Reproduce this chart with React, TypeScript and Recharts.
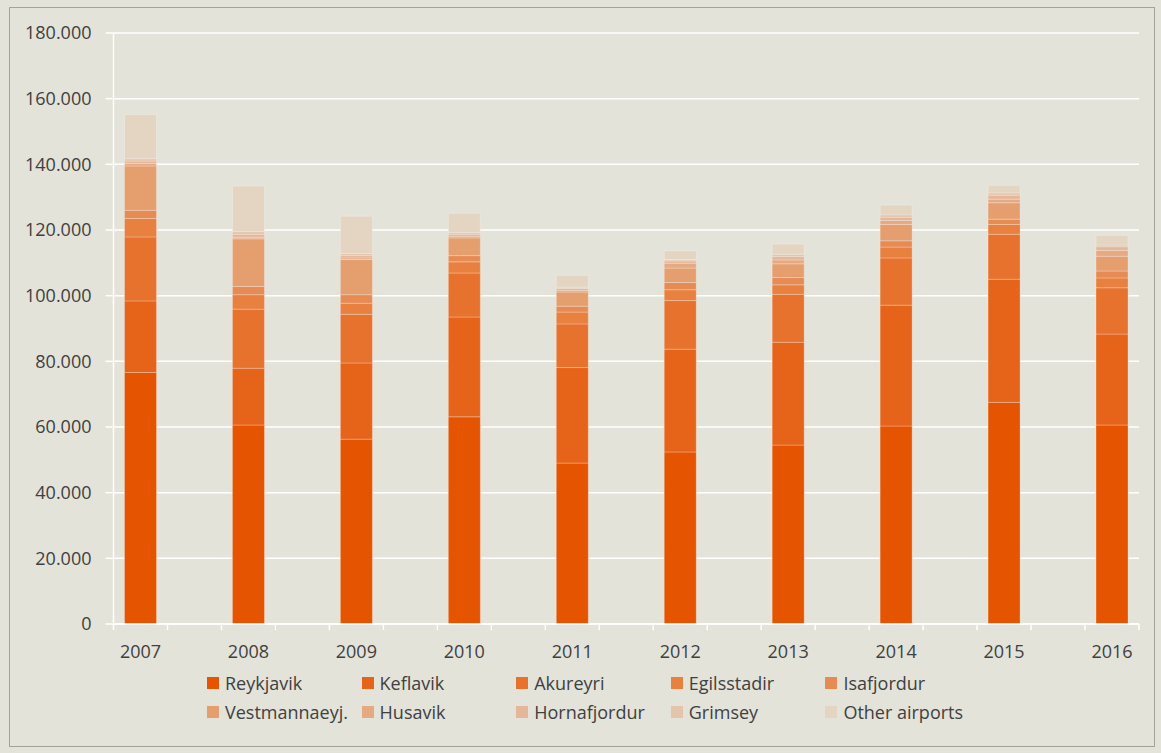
import React from 'react';
import { BarChart, Bar, XAxis, YAxis, CartesianGrid, Legend } from 'recharts';

const years = ['2007', '2008', '2009', '2010', '2011', '2012', '2013', '2014', '2015', '2016'];

const reykjavik = [76600, 60600, 56300, 63100, 49000, 52400, 54500, 60300, 67500, 60600];
const keflavik = [21800, 17300, 23200, 30400, 29100, 31300, 31300, 36800, 37500, 27700];
const akureyri = [19500, 18000, 14800, 13400, 13300, 14800, 14600, 14400, 13700, 14100];
const egilsstadir = [5600, 4400, 3400, 3400, 3600, 3300, 2900, 3300, 3000, 3000];
const isafjordur = [2500, 2500, 2600, 1900, 1800, 2200, 2200, 1900, 1600, 2100];
const vestmannaeyj = [13500, 14500, 10700, 5400, 4300, 4400, 4200, 5000, 5000, 4500];
const husavik = [800, 500, 500, 500, 500, 1500, 1200, 1200, 1100, 1800];
const hornafjordur = [700, 900, 700, 600, 600, 700, 1000, 1000, 1200, 1100];
const grimsey = [700, 800, 600, 500, 400, 400, 700, 700, 700, 500];
const otherAirports = [13500, 13900, 11400, 5900, 3600, 2700, 3100, 3000, 2300, 3000];

const seriesNames = ['Reykjavik', 'Keflavik', 'Akureyri', 'Egilsstadir', 'Isafjordur', 'Vestmannaeyj.', 'Husavik', 'Hornafjordur', 'Grimsey', 'Other airports'];
const seriesValues = [reykjavik, keflavik, akureyri, egilsstadir, isafjordur, vestmannaeyj, husavik, hornafjordur, grimsey, otherAirports];
const seriesColors = ['#E55400', '#E6631A', '#E7722D', '#E8803F', '#E78B55', '#E59E6E', '#E5A983', '#E5B697', '#E4C4AB', '#E4D5C3'];

const yTicks = [0, 20000, 40000, 60000, 80000, 100000, 120000, 140000, 160000, 180000];

// one slot per year, with an empty slot between consecutive years
const rows: any[] = [];
years.forEach((yr, i) => {
  const row: any = { label: yr };
  seriesValues.forEach((vals, k) => {
    row['s' + k] = vals[i];
  });
  rows.push(row);
  if (i < years.length - 1) rows.push({ label: '' });
});

const W = 1144;
const H = 738;
const FONT = '"Open Sans", sans-serif';
const TEXT = '#404040';

const fmtY = (v: number) => (v === 0 ? '0' : `${Math.round(v / 1000)}.000`);

const XTick = (props: any) => {
  const { x, y, payload, index, width, visibleTicksCount } = props;
  const half = width && visibleTicksCount ? width / visibleTicksCount / 2 : 0;
  return (
    <g>
      <line x1={x - half} x2={x - half} y1={y} y2={y + 6} stroke="#FFFFFF" strokeWidth={1.5} />
      {index === visibleTicksCount - 1 && (
        <line x1={x + half} x2={x + half} y1={y} y2={y + 6} stroke="#FFFFFF" strokeWidth={1.5} />
      )}
      {payload.value !== '' && (
        <text x={x} y={y + 28} dy="0.35em" textAnchor="middle" fill={TEXT} fontSize={18} fontFamily={FONT}>
          {payload.value}
        </text>
      )}
    </g>
  );
};

const LegendContent = () => (
  <div
    style={{
      width: W,
      height: 76,
      boxSizing: 'border-box',
      paddingLeft: 197,
      display: 'grid',
      gridTemplateColumns: 'repeat(5, 154.6px)',
      gridAutoRows: '26px',
      rowGap: 3,
      fontFamily: FONT,
      fontSize: 18,
      color: TEXT,
    }}
  >
    {seriesNames.map((n, k) => (
      <div key={n} style={{ display: 'flex', alignItems: 'center', whiteSpace: 'nowrap' }}>
        <span style={{ display: 'inline-block', width: 12, height: 12, background: seriesColors[k], marginRight: 6 }} />
        <span>{n}</span>
      </div>
    ))}
  </div>
);

export default function App() {
  return (
    <div style={{ position: 'fixed', inset: 0, background: '#E3E3DA' }}>
      <div
        style={{
          position: 'absolute',
          left: 9,
          top: 7,
          width: W,
          height: H,
          border: '1px solid #A3A39D',
        }}
      >
        <BarChart
          width={W}
          height={H}
          data={rows}
          margin={{ top: 25, right: 15, bottom: 0, left: 0 }}
          barSize={32}
        >
          <CartesianGrid vertical={false} stroke="#FFFFFF" strokeWidth={1.5} />
          <XAxis
            dataKey="label"
            interval={0}
            height={46}
            tickSize={0}
            tickMargin={0}
            tickLine={false}
            axisLine={{ stroke: '#FFFFFF', strokeWidth: 1.5 }}
            tick={<XTick />}
          />
          <YAxis
            width={103.5}
            domain={[0, 180000]}
            ticks={yTicks}
            tickFormatter={fmtY}
            tickSize={8}
            tickMargin={14}
            axisLine={{ stroke: '#FFFFFF', strokeWidth: 1.5 }}
            tickLine={{ stroke: '#FFFFFF', strokeWidth: 1.5 }}
            tick={{ fill: TEXT, fontSize: 18, fontFamily: FONT }}
          />
          <Legend verticalAlign="bottom" align="left" content={<LegendContent />} wrapperStyle={{ left: 0 }} />
          {seriesNames.map((n, k) => (
            <Bar
              key={n}
              dataKey={'s' + k}
              name={n}
              stackId="a"
              fill={seriesColors[k]}
              stroke="#FFFFFF"
              strokeOpacity={0.25}
              strokeWidth={1}
              isAnimationActive={false}
            />
          ))}
        </BarChart>
      </div>
    </div>
  );
}
